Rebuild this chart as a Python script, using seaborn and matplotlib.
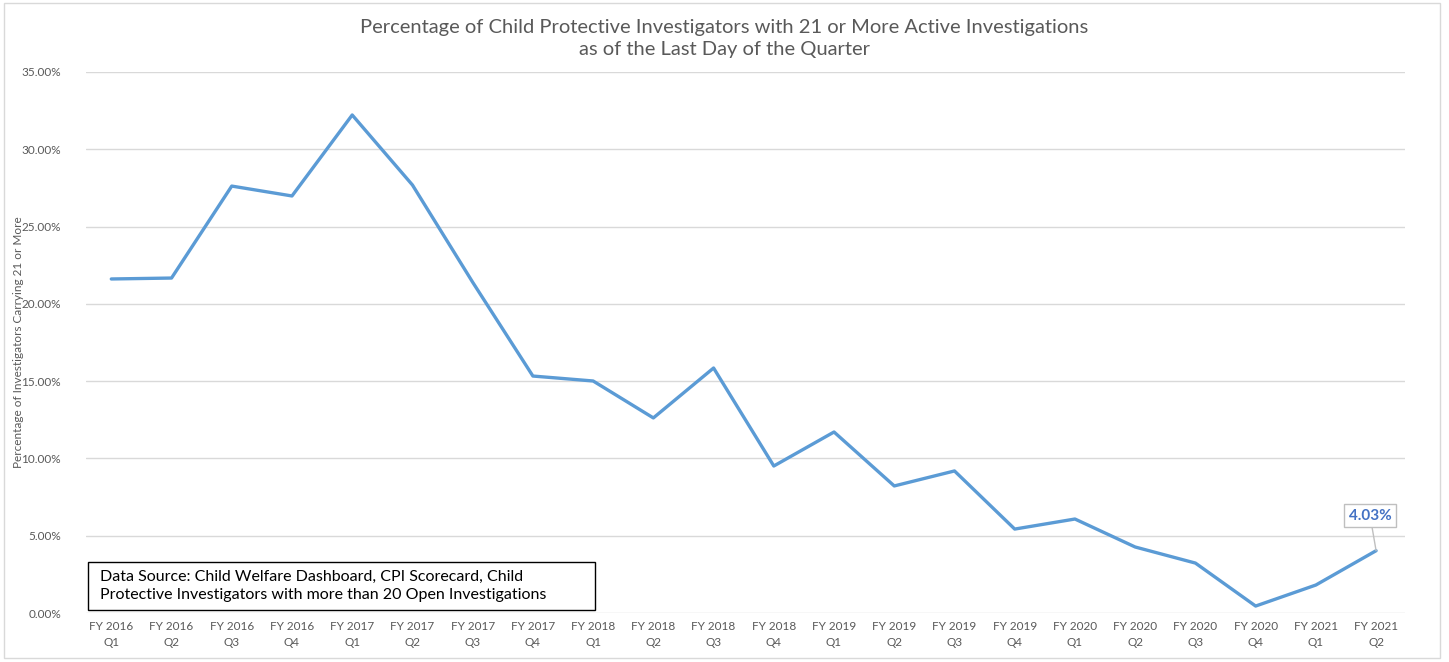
import numpy as np
import pandas as pd
import seaborn as sns
import matplotlib.pyplot as plt
from matplotlib.patches import Rectangle
from matplotlib.ticker import FuncFormatter

# quarters and percentage of CPIs carrying 21+ investigations
quarters = ['FY 2016\nQ1', 'FY 2016\nQ2', 'FY 2016\nQ3', 'FY 2016\nQ4',
            'FY 2017\nQ1', 'FY 2017\nQ2', 'FY 2017\nQ3', 'FY 2017\nQ4',
            'FY 2018\nQ1', 'FY 2018\nQ2', 'FY 2018\nQ3', 'FY 2018\nQ4',
            'FY 2019\nQ1', 'FY 2019\nQ2', 'FY 2019\nQ3', 'FY 2019\nQ4',
            'FY 2020\nQ1', 'FY 2020\nQ2', 'FY 2020\nQ3', 'FY 2020\nQ4',
            'FY 2021\nQ1', 'FY 2021\nQ2']
pct = [21.61, 21.67, 27.62, 26.98,
       32.22, 27.69, 21.40, 15.33,
       15.01, 12.62, 15.85, 9.51,
       11.71, 8.22, 9.19, 5.43,
       6.08, 4.27, 3.23, 0.45,
       1.81, 4.03]

df = pd.DataFrame({'quarter': quarters, 'pct': pct})
df['pos'] = range(len(df))

sns.set_theme(style='white')
plt.rcParams['font.family'] = ['Lato', 'DejaVu Sans']

fig = plt.figure(figsize=(14.49, 6.62), dpi=100)
ax = fig.add_axes([86 / 1449, 1 - 613 / 662, (1405 - 86) / 1449, (613 - 72) / 662])

sns.lineplot(data=df, x='pos', y='pct', ax=ax, color='#5B9BD5', linewidth=2.4)

ax.set_ylim(0, 35)
ax.set_xlim(-0.42, len(df) - 0.52)
ax.set_yticks(np.arange(0, 36, 5))
ax.yaxis.set_major_formatter(FuncFormatter(lambda v, p: f'{v:.2f}%'))
ax.set_xticks(df['pos'])
ax.set_xticklabels(df['quarter'], fontsize=8.5, color='#595959', linespacing=1.5)
ax.tick_params(axis='y', labelsize=8.5, labelcolor='#595959', pad=12)
ax.tick_params(axis='x', pad=6, length=0)
ax.grid(axis='y', color='#D9D9D9', linewidth=1)
for s in ax.spines.values():
    s.set_visible(False)
ax.set_xlabel('')
ax.set_ylabel('Percentage of Investigators Carrying 21 or More', fontsize=8.5, color='#595959')
ax.yaxis.set_label_coords(-62 / 1319, 0.5)

fig.text(0.5, 1 - 27 / 662, 'Percentage of Child Protective Investigators with 21 or More Active Investigations',
         ha='center', va='center', fontsize=14.5, color='#595959')
fig.text(0.5, 1 - 50 / 662, 'as of the Last Day of the Quarter',
         ha='center', va='center', fontsize=14.5, color='#595959')

# data label on the last point
last = df.iloc[-1]
ax.annotate(f"{last['pct']:.2f}%", xy=(last['pos'], last['pct']), xytext=(last['pos'] - 0.1, 6.3),
            ha='center', va='center', fontsize=11, fontweight='bold', color='#4472C4',
            bbox=dict(boxstyle='square,pad=0.3', fc='white', ec='#BFBFBF', lw=1),
            arrowprops=dict(arrowstyle='-', color='#BFBFBF', lw=1, shrinkA=0, shrinkB=0))

# source box
fig.patches.append(Rectangle((88 / 1449, 1 - 610 / 662), (595 - 88) / 1449, 48 / 662,
                             transform=fig.transFigure, fill=False, ec='black', lw=1))
fig.text(100 / 1449, 1 - 586 / 662,
         'Data Source: Child Welfare Dashboard, CPI Scorecard, Child\nProtective Investigators with more than 20 Open Investigations',
         ha='left', va='center', fontsize=11.5, color='black', linespacing=1.3)

# outer chart border
fig.patches.append(Rectangle((4 / 1449, 4 / 662), 1436 / 1449, 655 / 662,
                             transform=fig.transFigure, fill=False, ec='#D9D9D9', lw=1))

fig.savefig('out.png', dpi=100, facecolor='white')
